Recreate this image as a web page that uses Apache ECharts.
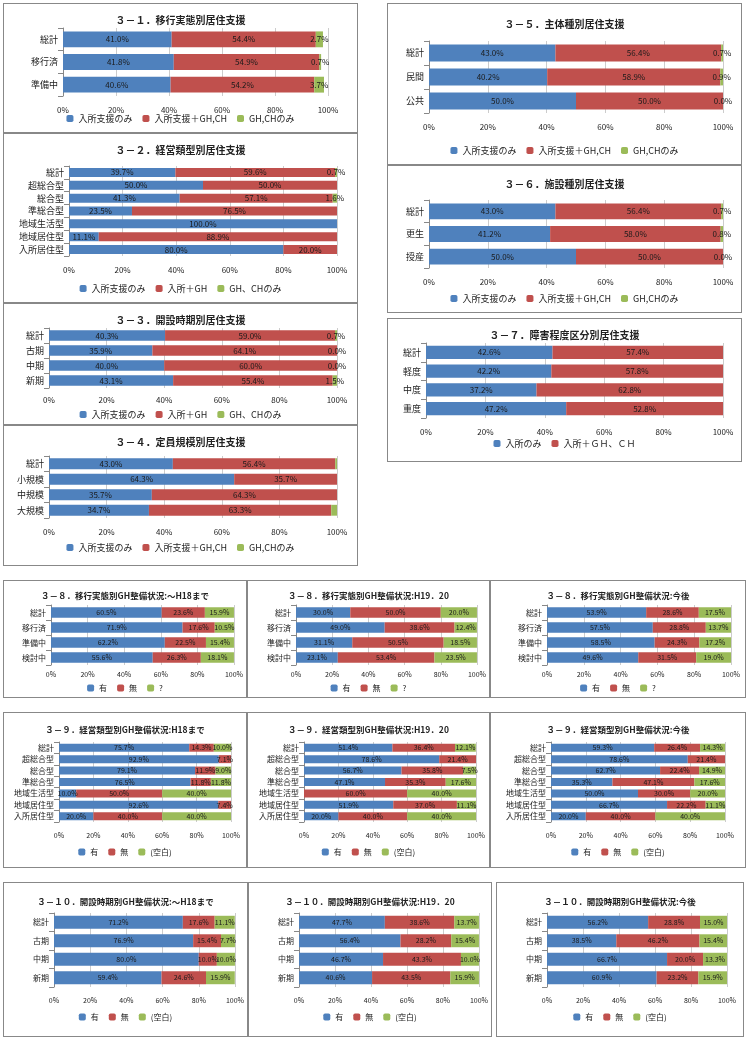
<!DOCTYPE html>
<html>
<head>
<meta charset="utf-8">
<script src="https://cdn.jsdelivr.net/npm/echarts@6/dist/echarts.min.js"></script>
<style>
  body { margin: 0; background: #fff; width: 748px; height: 1042px; position: relative; overflow: hidden; }
  .panel { position: absolute; box-sizing: border-box; border: 1px solid #888; background: #fff; }
</style>
</head>
<body>
<script>
// legends
const legA = ["入所支援のみ", "入所支援＋GH,CH", "GH,CHのみ"];
const legB = ["入所支援のみ", "入所＋GH", "GH、CHのみ"];
const legC = ["入所のみ", "入所＋ＧＨ、ＣＨ"];
const legQ = ["有", "無", "?"];
const legK = ["有", "無", "(空白)"];

// categories
const cat31 = ["総計", "移行済", "準備中"];
const cat32 = ["総計", "超総合型", "総合型", "準総合型", "地域生活型", "地域居住型", "入所居住型"];
const cat33 = ["総計", "古期", "中期", "新期"];
const cat34 = ["総計", "小規模", "中規模", "大規模"];
const cat35 = ["総計", "民間", "公共"];
const cat36 = ["総計", "更生", "授産"];
const cat37 = ["総計", "軽度", "中度", "重度"];
const cat38 = ["総計", "移行済", "準備中", "検討中"];
const cat39 = ["総計", "超総合型", "総合型", "準総合型", "地域生活型", "地域居住型", "入所居住型"];
const cat310 = ["総計", "古期", "中期", "新期"];

// values (series 1 / 2 / 3)
const v31 = [[41.0, 41.8, 40.6], [54.4, 54.9, 54.2], [2.7, 0.7, 3.7]];
const v32 = [[39.7, 50.0, 41.3, 23.5, 100.0, 11.1, 80.0], [59.6, 50.0, 57.1, 76.5, 0, 88.9, 20.0], [0.7, 0, 1.6, 0, 0, 0, 0]];
const v33 = [[40.3, 35.9, 40.0, 43.1], [59.0, 64.1, 60.0, 55.4], [0.7, 0.0, 0.0, 1.5]];
const v34 = [[43.0, 64.3, 35.7, 34.7], [56.4, 35.7, 64.3, 63.3], [0.6, 0, 0, 2.0]];
const v35 = [[43.0, 40.2, 50.0], [56.4, 58.9, 50.0], [0.7, 0.9, 0.0]];
const v36 = [[43.0, 41.2, 50.0], [56.4, 58.0, 50.0], [0.7, 0.8, 0.0]];
const v37 = [[42.6, 42.2, 37.2, 47.2], [57.4, 57.8, 62.8, 52.8]];
const v38a = [[60.5, 71.9, 62.2, 55.6], [23.6, 17.6, 22.5, 26.3], [15.9, 10.5, 15.4, 18.1]];
const v38b = [[30.0, 49.0, 31.1, 23.1], [50.0, 38.6, 50.5, 53.4], [20.0, 12.4, 18.5, 23.5]];
const v38c = [[53.9, 57.5, 58.5, 49.6], [28.6, 28.8, 24.3, 31.5], [17.5, 13.7, 17.2, 19.0]];
const v39a = [[75.7, 92.9, 79.1, 76.5, 10.0, 92.6, 20.0], [14.3, 7.1, 11.9, 11.8, 50.0, 7.4, 40.0], [10.0, 0.0, 9.0, 11.8, 40.0, 0.0, 40.0]];
const v39b = [[51.4, 78.6, 56.7, 47.1, 0.0, 51.9, 20.0], [36.4, 21.4, 35.8, 35.3, 60.0, 37.0, 40.0], [12.1, 0.0, 7.5, 17.6, 40.0, 11.1, 40.0]];
const v39c = [[59.3, 78.6, 62.7, 35.3, 50.0, 66.7, 20.0], [26.4, 21.4, 22.4, 47.1, 30.0, 22.2, 40.0], [14.3, 0.0, 14.9, 17.6, 20.0, 11.1, 40.0]];
const v310a = [[71.2, 76.9, 80.0, 59.4], [17.6, 15.4, 10.0, 24.6], [11.1, 7.7, 10.0, 15.9]];
const v310b = [[47.7, 56.4, 46.7, 40.6], [38.6, 28.2, 43.3, 43.5], [13.7, 15.4, 10.0, 15.9]];
const v310c = [[56.2, 38.5, 66.7, 60.9], [28.8, 46.2, 20.0, 23.2], [15.0, 15.4, 13.3, 15.9]];

const colors = ["#4F81BD", "#C0504D", "#9BBB59"];
const font = "'Noto Sans CJK JP', sans-serif";

function panel(box, title, cats, vals, legend, g, opts) {
  opts = opts || {};
  const div = document.createElement("div");
  div.className = "panel";
  div.style.left = box[0] + "px"; div.style.top = box[1] + "px";
  div.style.width = box[2] + "px"; div.style.height = box[3] + "px";
  document.body.appendChild(div);
  const chart = echarts.init(div, null, { renderer: "canvas" });
  const fs = opts.fs || 9;
  const series = vals.map((d, i) => ({
    name: legend[i], type: "bar", stack: "s", data: d, barWidth: opts.bw || "70%",
    itemStyle: { color: colors[i] },
    label: {
      show: !(opts.noLabel || []).includes(i), position: "inside", fontSize: fs - 1, color: "#1a1a1a",
      fontFamily: font,
      formatter: p => (p.value > 0 || opts.showZero) ? p.value.toFixed(1) + "%" : ""
    }
  }));
  chart.setOption({
    animation: false,
    textStyle: { fontFamily: font },
    title: { text: title, left: "center", top: opts.tt || 6, textStyle: { fontSize: opts.ts || 10, fontWeight: "bold", color: "#222", fontFamily: font } },
    legend: { data: legend, bottom: opts.lb !== undefined ? opts.lb : 4, itemWidth: 7, itemHeight: 7, itemGap: 10, textStyle: { fontSize: fs, color: "#222" } },
    grid: { left: g[0], top: g[1], width: g[2], height: g[3] },
    xAxis: {
      type: "value", min: 0, max: 100, interval: 20,
      axisLabel: { formatter: "{value}%", fontSize: fs - 1, color: "#222", margin: opts.am || 10 },
      splitLine: { lineStyle: { color: "#ccc" } }, axisLine: { show: false }
    },
    yAxis: {
      type: "category", data: cats, inverse: true,
      axisLabel: { fontSize: fs, color: "#222", margin: 5 },
      axisLine: { lineStyle: { color: "#888" } }, axisTick: { show: true, lineStyle: { color: "#888" } }
    },
    series: series
  });
}

panel([3, 3, 355, 130], "３－１．移行実態別居住支援", cat31, v31, legA, [59, 24, 265, 68], {});
panel([3, 133, 355, 170], "３－２．経営類型別居住支援", cat32, v32, legB, [65, 32, 268, 90], {});
panel([3, 303, 355, 122], "３－３．開設時期別居住支援", cat33, v33, legB, [45, 24, 288, 60], { showZero: true, lb: 0, am: 8 });
panel([3, 425, 355, 141], "３－４．定員規模別居住支援", cat34, v34, legA, [45, 30, 288, 62], { noLabel: [2], lb: 8 });
panel([387, 3, 355, 162], "３－５．主体種別居住支援", cat35, v35, legA, [41, 37, 294, 72], { showZero: true, tt: 10 });
panel([387, 165, 355, 148], "３－６．施設種別居住支援", cat36, v36, legA, [41, 34, 294, 68], { showZero: true, tt: 8 });
panel([387, 318, 355, 144], "３－７．障害程度区分別居住支援", cat37, v37, legC, [38, 24, 297, 75], { lb: 8 });

const s8 = { fs: 8, ts: 8.5, tt: 6, lb: 0, am: 6 };
panel([3, 580, 244, 118], "３－８．移行実態別GH整備状況:～H18まで", cat38, v38a, legQ, [47, 24, 183, 60], s8);
panel([247, 580, 243, 118], "３－８．移行実態別GH整備状況:H19．20", cat38, v38b, legQ, [48, 24, 183, 60], s8);
panel([490, 580, 256, 118], "３－８．移行実態別GH整備状況:今後", cat38, v38c, legQ, [56, 24, 184, 60], s8);

const s9 = { fs: 8, ts: 8.5, tt: 8, lb: 6 };
panel([3, 712, 244, 156], "３－９．経営類型別GH整備状況:H18まで", cat39, v39a, legK, [55, 29, 172, 80], s9);
panel([247, 712, 243, 156], "３－９．経営類型別GH整備状況:H19．20", cat39, v39b, legK, [56, 29, 172, 80], s9);
panel([490, 712, 256, 156], "３－９．経営類型別GH整備状況:今後", cat39, v39c, legK, [60, 29, 174, 80], s9);

const s10 = { fs: 8, ts: 8.5, tt: 10, lb: 10 };
panel([3, 882, 245, 155], "３－１０．開設時期別GH整備状況:～H18まで", cat310, v310a, legK, [50, 30, 187, 74], s10);
panel([248, 882, 244, 155], "３－１０．開設時期別GH整備状況:H19．20", cat310, v310b, legK, [50, 30, 180, 74], s10);
panel([496, 882, 248, 155], "３－１０．開設時期別GH整備状況:今後", cat310, v310c, legK, [50, 30, 180, 74], s10);
</script>
</body>
</html>
